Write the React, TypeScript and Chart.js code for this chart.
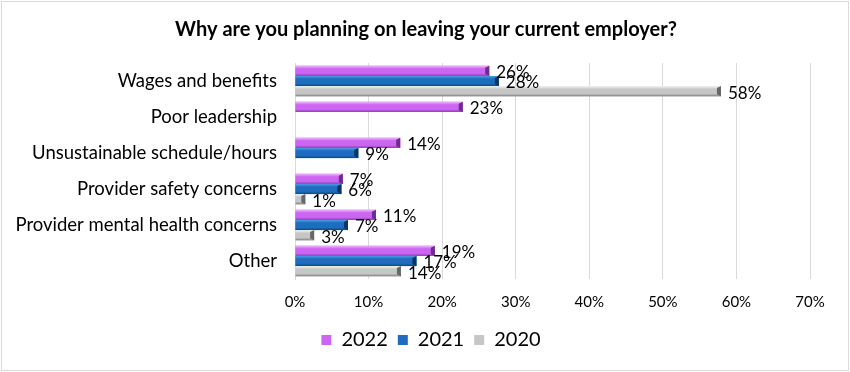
import React, { useEffect, useRef } from "react";
import { Chart, registerables } from "chart.js";

Chart.register(...registerables);

const TITLE = "Why are you planning on leaving your current employer?";
const categories = [
  "Wages and benefits",
  "Poor leadership",
  "Unsustainable schedule/hours",
  "Provider safety concerns",
  "Provider mental health concerns",
  "Other",
];
const seriesNames = ["2022", "2021", "2020"];
const values2022 = [26.4, 22.8, 14.3, 6.5, 11.0, 19.0];
const values2021 = [27.7, null, 8.6, 6.3, 7.2, 16.5];
const values2020 = [57.9, null, null, 1.4, 2.6, 14.4];
const xTicks = [0, 10, 20, 30, 40, 50, 60, 70];

const FONT = "Lato, 'Open Sans', sans-serif";

const palettes = [
  { light: "#F0B8FF", base: "#CC66F2", dark: "#8E3AB3", cap: "#6E2A8C" },
  { light: "#4E9AE6", base: "#1F6CBE", dark: "#0E4580", cap: "#0A3563" },
  { light: "#F4F4F4", base: "#C6C6C6", dark: "#7F7F7F", cap: "#666666" },
];

const bevelPlugin = {
  id: "bevel",
  afterDatasetsDraw(chart: any) {
    const ctx = chart.ctx;
    chart.data.datasets.forEach((ds: any, di: number) => {
      const meta = chart.getDatasetMeta(di);
      const p = palettes[di];
      meta.data.forEach((bar: any, i: number) => {
        const v = ds.data[i];
        if (v === null || v === undefined) return;
        const { x, y, base, height } = bar.getProps(["x", "y", "base", "height"], true);
        const top = y - height / 2;
        const bottom = y + height / 2;
        const left = base;
        const right = x;
        const g = ctx.createLinearGradient(0, top, 0, bottom);
        g.addColorStop(0, p.light);
        g.addColorStop(0.3, p.base);
        g.addColorStop(0.75, p.base);
        g.addColorStop(1, p.dark);
        ctx.save();
        ctx.fillStyle = g;
        ctx.fillRect(left, top, right - left, bottom - top);
        const cw = Math.min(4, right - left);
        ctx.fillStyle = p.cap;
        ctx.beginPath();
        ctx.moveTo(right - cw, top + 2);
        ctx.lineTo(right, top);
        ctx.lineTo(right, bottom);
        ctx.lineTo(right - cw, bottom - 2);
        ctx.closePath();
        ctx.fill();
        ctx.restore();
      });
    });
  },
};

const labelsPlugin = {
  id: "valueLabels",
  afterDatasetsDraw(chart: any) {
    const ctx = chart.ctx;
    ctx.save();
    ctx.font = `17px ${FONT}`;
    ctx.fillStyle = "#000";
    ctx.textAlign = "left";
    ctx.textBaseline = "middle";
    chart.data.datasets.forEach((ds: any, di: number) => {
      const meta = chart.getDatasetMeta(di);
      meta.data.forEach((bar: any, i: number) => {
        const v = ds.data[i];
        if (v === null || v === undefined) return;
        const { x, y } = bar.getProps(["x", "y"], true);
        ctx.fillText(`${Math.round(v)}%`, x + 7, y + 2);
      });
    });
    ctx.restore();
  },
};

const framePlugin = {
  id: "frame",
  afterLayout(chart: any) {
    if (chart.legend) {
      chart.legend.left += 26;
      chart.legend.right += 26;
    }
  },
  beforeDraw(chart: any) {
    const ctx = chart.ctx;
    ctx.save();
    ctx.fillStyle = "#fff";
    ctx.fillRect(0, 0, chart.width, chart.height);
    ctx.restore();
  },
  afterDraw(chart: any) {
    const ctx = chart.ctx;
    ctx.save();
    ctx.strokeStyle = "#D9D9D9";
    ctx.lineWidth = 1;
    ctx.strokeRect(1.5, 1.5, chart.width - 3, chart.height - 3);
    ctx.font = `bold 20px ${FONT}`;
    ctx.fillStyle = "#000";
    ctx.textAlign = "center";
    ctx.textBaseline = "middle";
    ctx.fillText(TITLE, 426, 30);
    ctx.restore();
  },
};

export default function App() {
  const ref = useRef<HTMLCanvasElement | null>(null);
  useEffect(() => {
    if (!ref.current) return;
    const chart = new Chart(ref.current, {
      type: "bar",
      data: {
        labels: categories,
        datasets: [values2022, values2021, values2020].map((d, i) => ({
          label: seriesNames[i],
          data: d,
          backgroundColor: palettes[i].base,
          borderWidth: 0,
          barPercentage: 1,
          categoryPercentage: 0.85,
        })),
      },
      options: {
        indexAxis: "y",
        animation: false,
        responsive: false,
        maintainAspectRatio: false,
        layout: { padding: { top: 63, right: 40, bottom: 12, left: 0 } },
        scales: {
          x: {
            min: 0,
            max: 70,
            afterBuildTicks(scale: any) {
              scale.ticks = xTicks.map((v) => ({ value: v }));
            },
            afterFit(scale: any) {
              scale.height = 41;
            },
            ticks: {
              padding: 14,
              color: "#000",
              font: { family: FONT, size: 15 },
              callback: (v: any) => `${v}%`,
            },
            grid: { color: "#D9D9D9", drawTicks: false },
            border: { display: false },
          },
          y: {
            afterFit(scale: any) {
              scale.width = 295;
            },
            ticks: {
              padding: 18,
              color: "#000",
              font: { family: FONT, size: 18.5 },
            },
            grid: { display: false, drawTicks: false },
            border: { display: true, color: "#D9D9D9" },
          },
        },
        plugins: {
          legend: {
            position: "bottom",
            labels: {
              color: "#000",
              font: { family: FONT, size: 20 },
              boxWidth: 10,
              boxHeight: 10,
              padding: 10,
            },
          },
          tooltip: { enabled: false },
          title: { display: false },
        },
      },
      plugins: [framePlugin, bevelPlugin, labelsPlugin],
    } as any);
    return () => chart.destroy();
  }, []);
  return (
    <div style={{ position: "fixed", left: 0, top: 0, width: 850, height: 372 }}>
      <canvas ref={ref} width={850} height={372} style={{ width: 850, height: 372 }} />
    </div>
  );
}
